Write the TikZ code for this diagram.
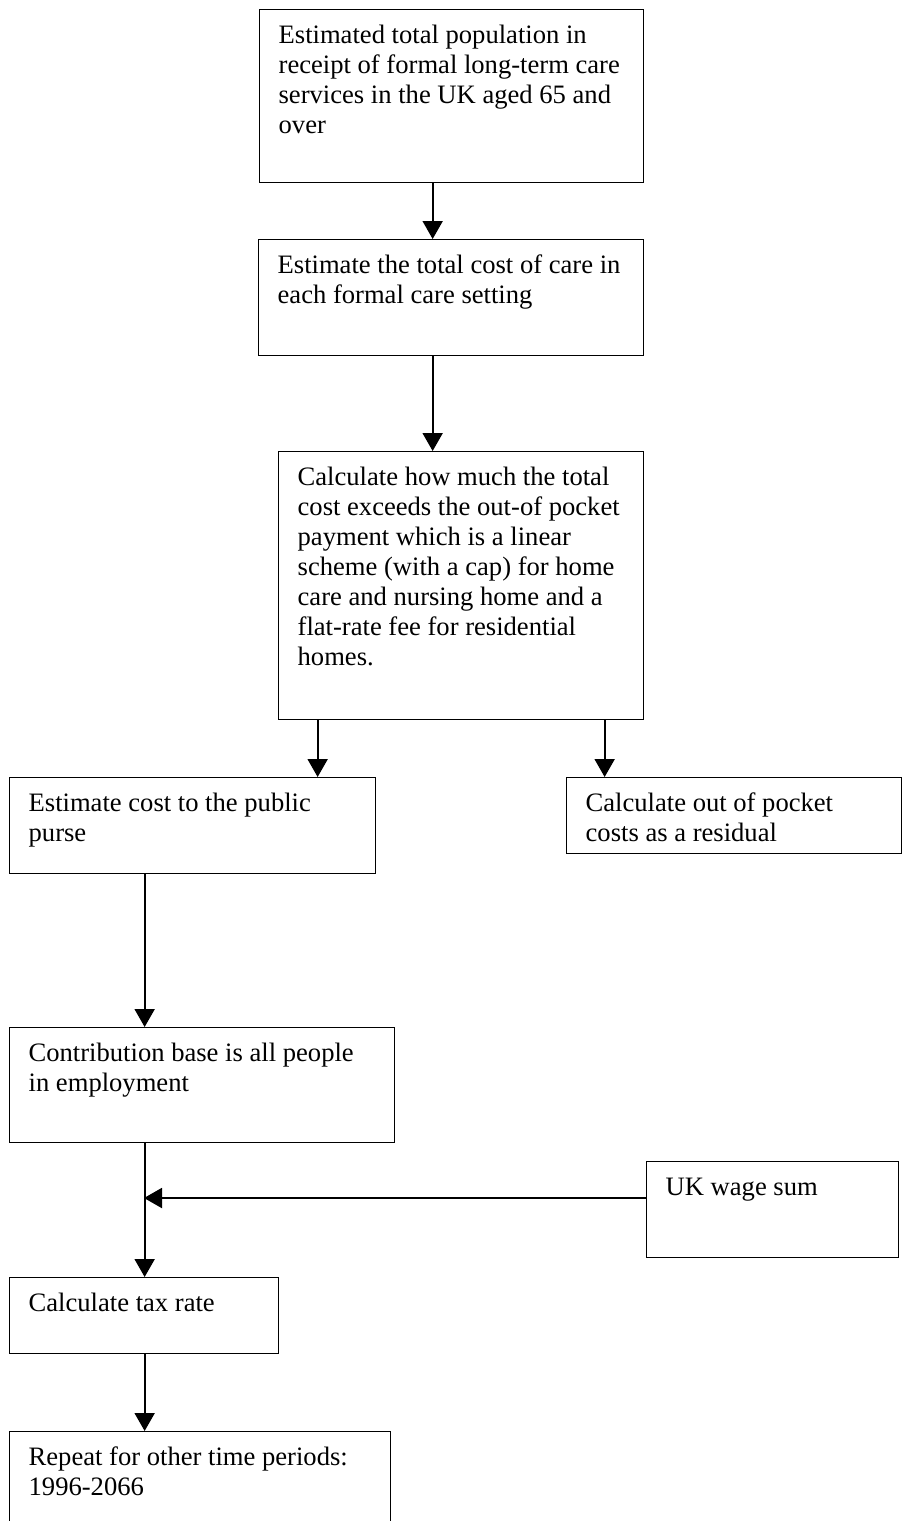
\documentclass[tikz,border=0pt]{standalone}
\usepackage{fontspec}
\setmainfont{Liberation Serif}
\usetikzlibrary{arrows.meta}

\begin{document}
\begin{tikzpicture}[
            x=0.5pt, y=-0.5pt,
            stepbox/.style={draw=black, line width=0.65pt, anchor=north west, align=left,
                inner xsep=9.5pt, inner ysep=0pt, text height=17pt,
                font=\fontsize{13.3pt}{15pt}\selectfont,
                execute at begin node={\spaceskip=0pt\xspaceskip=0pt\rightskip=0pt plus 1fil\relax}},
            flow/.style={line width=1pt, -{Triangle[width=10pt, length=9pt]}},
        ]
        \useasboundingbox (0,0) rectangle (902,1521);

        \node[stepbox, text width=173pt, text depth=69.5pt] (pop) at (259,9) {Estimated total population in\\receipt of formal long-term care\\services in the UK aged 65 and\\over};
        \node[stepbox, text width=173.5pt, text depth=41pt] (cost) at (258,239) {Estimate the total cost of care in\\each formal care setting};
        \node[stepbox, text width=163.5pt, text depth=117pt] (excess) at (278,451) {Calculate how much the total\\cost exceeds the out-of pocket\\payment which is a linear\\scheme (with a cap) for home\\care and nursing home and a\\flat-rate fee for residential\\homes.};
        \node[stepbox, text width=164pt, text depth=31pt] (public) at (9,777) {Estimate cost to the public\\purse};
        \node[stepbox, text width=148.5pt, text depth=21pt] (pocket) at (566,777) {Calculate out of pocket\\costs as a residual};
        \node[stepbox, text width=173.5pt, text depth=40.5pt] (contrib) at (9,1027) {Contribution base is all people\\in employment};
        \node[stepbox, text width=107pt, text depth=31pt] (wage) at (646,1161) {UK wage sum};
        \node[stepbox, text width=115.5pt, text depth=21pt] (tax) at (9,1277) {Calculate tax rate};
        \node[stepbox, text width=171.5pt, text depth=32.5pt] (repeat) at (9,1431) {Repeat for other time periods:\\1996-2066};
        \coordinate (join) at (144,1198);

        \draw[flow] ([xshift=-9.5pt]pop.south) -- ([xshift=-9.25pt]cost.north);
        \draw[flow] ([xshift=-9.25pt]cost.south) -- ([xshift=-14.25pt]excess.north);
        \draw[flow] ([xshift=-71.75pt]excess.south) -- ([xshift=62.5pt]public.north);
        \draw[flow] ([xshift=71.75pt]excess.south) -- ([xshift=-64.75pt]pocket.north);
        \draw[flow] ([xshift=-24pt]public.south) -- ([xshift=-28.75pt]contrib.north);
        \draw[flow] ([xshift=-28.75pt]contrib.south) -- ([xshift=0.25pt]tax.north);
        \draw[flow] (wage.west |- join) -- (join);
        \draw[flow] ([xshift=0.25pt]tax.south) -- ([xshift=-27.75pt]repeat.north);

    \end{tikzpicture}
\end{document}
